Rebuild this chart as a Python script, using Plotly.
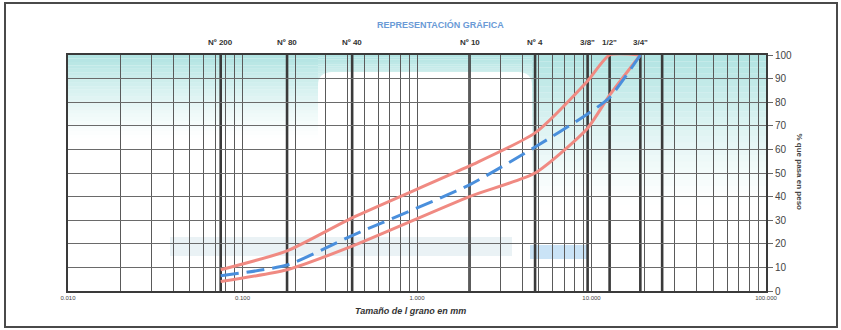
import math
import plotly.graph_objects as go

# ---------------- data ----------------
sieve_labels = ["Nº 200", "Nº 80", "Nº 40", "Nº 10", "Nº 4", '3/8"', '1/2"', '3/4"']
sieve_mm = [0.075, 0.18, 0.425, 2.0, 4.75, 9.5, 12.7, 19.05]
extra_sieve_mm = [25.4]

upper_limit = [9, 17, 31, 53, 67, 89, 100, 100]
lower_limit = [4, 9, 19, 40, 50, 69, 83, 100]
sample_curve = [6.5, 11, 23.5, 45, 61, 75, 82, 100]

x_tick_vals = [0.01, 0.1, 1, 10, 100]
x_tick_text = ["0.010", "0.100", "1.000", "10.000", "100.000"]
y_tick_vals = [0, 10, 20, 30, 40, 50, 60, 70, 80, 90, 100]

# ---------------- layout helpers ----------------
W, H = 841, 330
PL, PR, PT, PB = 68, 766, 55, 291   # plot area in pixels


def px(x):
    return (x - PL) / (PR - PL)


def py(y):
    return (PB - y) / (PB - PT)


# grid positions 1..9 per decade
grid_vals = []
grid_text = []
for e in range(-2, 2):
    for m in range(1, 10):
        v = m * 10 ** e
        grid_vals.append(v)
        grid_text.append("")
grid_vals.append(100)
grid_text.append("")
for tv, tt in zip(x_tick_vals, x_tick_text):
    for i, g in enumerate(grid_vals):
        if abs(g - tv) < 1e-9:
            grid_text[i] = tt

fig = go.Figure()

RED = "#f08a82"
fig.add_trace(go.Scatter(x=sieve_mm, y=upper_limit, mode="lines",
                         line=dict(color=RED, width=3, shape="spline", smoothing=0.6),
                         showlegend=False, hoverinfo="skip"))
fig.add_trace(go.Scatter(x=sieve_mm, y=lower_limit, mode="lines",
                         line=dict(color=RED, width=3, shape="spline", smoothing=0.6),
                         showlegend=False, hoverinfo="skip"))
fig.add_trace(go.Scatter(x=sieve_mm, y=sample_curve, mode="lines",
                         line=dict(color="#4a8fdc", width=3, dash="18px,8px",
                                   shape="spline", smoothing=0.6),
                         showlegend=False, hoverinfo="skip"))

shapes = []
TEAL = "rgb(178,228,226)"


def gradient(x0, x1, y0, y1, n=24):
    for i in range(n):
        ya = y0 + (y1 - y0) * i / n
        yb = y0 + (y1 - y0) * (i + 1) / n
        op = (1 - i / n) ** 1.3
        shapes.append(dict(type="rect", xref="paper", yref="paper",
                           x0=px(x0), x1=px(x1), y0=py(yb), y1=py(ya),
                           fillcolor=TEAL, opacity=op, line=dict(width=0),
                           layer="below"))


gradient(PL, 318, PT, 138)
gradient(318, 532, PT, 110)
gradient(532, PR, PT, 205)

# white rounded panel (background watermark)
r = 14
x0, x1, y0, y1 = 318, 532, 72, 232
path = (f"M {px(x0)},{py(y1)} L {px(x0)},{py(y0 + r)} "
        f"Q {px(x0)},{py(y0)} {px(x0 + r)},{py(y0)} "
        f"L {px(x1 - r)},{py(y0)} Q {px(x1)},{py(y0)} {px(x1)},{py(y0 + r)} "
        f"L {px(x1)},{py(y1)} Z")
shapes.append(dict(type="path", xref="paper", yref="paper", path=path,
                   fillcolor="white", line=dict(width=0), layer="below"))
# faint watermark bars
shapes.append(dict(type="rect", xref="paper", yref="paper",
                   x0=px(170), x1=px(512), y0=py(256), y1=py(237),
                   fillcolor="rgba(185,212,222,0.3)", line=dict(width=0), layer="below"))
shapes.append(dict(type="rect", xref="paper", yref="paper",
                   x0=px(530), x1=px(587), y0=py(259), y1=py(245),
                   fillcolor="rgba(150,200,238,0.5)", line=dict(width=0), layer="below"))

# thick sieve lines
for s in sieve_mm + extra_sieve_mm:
    shapes.append(dict(type="line", xref="x", yref="paper", x0=s, x1=s, y0=0, y1=1,
                       line=dict(color="#3a3a3a", width=2.6), layer="between"))

# outer frame
shapes.append(dict(type="rect", xref="paper", yref="paper",
                   x0=px(5), x1=px(837), y0=py(327), y1=py(3),
                   line=dict(color="#4a4a4a", width=2), layer="above"))

annotations = []
for s, lab in zip(sieve_mm, sieve_labels):
    annotations.append(dict(x=math.log10(s), xref="x", y=py(43), yref="paper",
                            text=f"<b>{lab}</b>",
                            showarrow=False, xanchor="center", yanchor="middle",
                            font=dict(family="Liberation Sans Narrow, Liberation Sans, Arial",
                                      size=8, color="#333")))
annotations.append(dict(x=px(440), y=py(17), xref="paper", yref="paper",
                        text="<b>REPRESENTACIÓN GRÁFICA</b>", showarrow=False,
                        font=dict(family="Liberation Sans Narrow, Liberation Sans, Arial",
                                  size=9, color="#6a9ad6")))
annotations.append(dict(x=px(410), y=py(318), xref="paper", yref="paper",
                        text="<b><i>Tamaño de l grano en mm</i></b>", showarrow=False,
                        font=dict(family="Liberation Sans, Arial", size=9, color="#333")))
annotations.append(dict(x=px(806), y=py(172), xref="paper", yref="paper",
                        text="<b>% que pasa en peso</b>", showarrow=False, textangle=90,
                        font=dict(family="Liberation Sans Narrow, Liberation Sans, Arial",
                                  size=8, color="#444")))

fig.update_layout(
    width=W, height=H,
    margin=dict(l=PL, r=W - PR, t=PT, b=H - PB),
    paper_bgcolor="white", plot_bgcolor="white",
    shapes=shapes, annotations=annotations,
    showlegend=False,
    xaxis=dict(type="log", range=[-2, 2], tickvals=grid_vals, ticktext=grid_text,
               showgrid=True, gridcolor="#5a5a5a", gridwidth=1, ticks="",
               tickfont=dict(family="Liberation Sans Narrow, Liberation Sans", size=6, color="#444"),
               showline=True, linecolor="#3a3a3a", linewidth=2, mirror=True,
               zeroline=False),
    yaxis=dict(range=[0, 100], tickvals=y_tick_vals, side="right",
               showgrid=True, gridcolor="#6a6a6a", gridwidth=1,
               ticks="outside", ticklen=5, tickcolor="#666",
               tickfont=dict(family="Liberation Sans Narrow, Liberation Sans", size=10, color="#444"),
               showline=True, linecolor="#3a3a3a", linewidth=2, mirror=True,
               zeroline=False),
)

fig.write_html("out.html")
